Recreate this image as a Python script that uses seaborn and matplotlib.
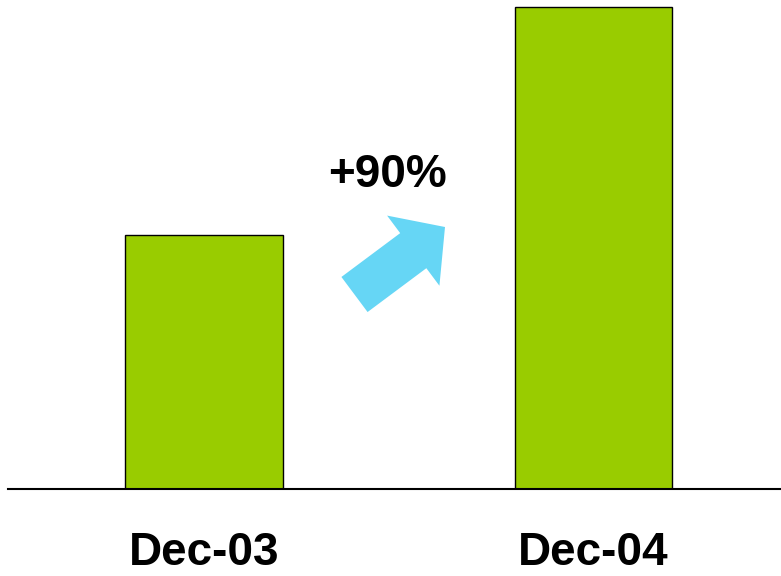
import matplotlib
matplotlib.use("Agg")
import matplotlib.pyplot as plt
import seaborn as sns
import pandas as pd

categories = ["Dec-03", "Dec-04"]
values = [1.0, 1.9]
growth_label = "+90%"

sns.set_theme(style="white")
plt.rcParams['font.family'] = ['Liberation Sans', 'DejaVu Sans']

df = pd.DataFrame({"period": categories, "value": values})

fig = plt.figure(figsize=(7.81, 5.76), dpi=100)
ax = fig.add_axes([8/781, 87/576, 1 - 8/781, 489/576])

sns.barplot(data=df, x="period", y="value", ax=ax, color="#99CC00",
            width=0.405, edgecolor="black", linewidth=1.0, saturation=1)

ax.set_xlim(-0.503, 1.481)
ax.set_ylim(0, 1.9 * 489 / 482)
for s in ["left", "right", "top"]:
    ax.spines[s].set_visible(False)
ax.spines["bottom"].set_color("black")
ax.spines["bottom"].set_linewidth(1.5)
ax.set_yticks([])
ax.set_xlabel("")
ax.set_ylabel("")
ax.tick_params(axis="x", length=0, pad=30)
for lbl in ax.get_xticklabels():
    lbl.set_fontsize(33)
    lbl.set_fontweight("bold")
    lbl.set_color("black")

ax.text(388/781, 1 - 175/576, growth_label, transform=fig.transFigure,
        ha="center", va="center", fontsize=33, fontweight="bold", color="black")

ax.annotate("", xy=(445/781, 1 - 227/576), xytext=(354.5/781, 1 - 294.5/576),
            xycoords=fig.transFigure, textcoords=fig.transFigure,
            arrowprops=dict(arrowstyle="simple,head_length=0.95,head_width=2.1,tail_width=1.05",
                            color="#66D6F5", lw=0, mutation_scale=30, shrinkA=0, shrinkB=0))

fig.savefig("out.png", dpi=100)
